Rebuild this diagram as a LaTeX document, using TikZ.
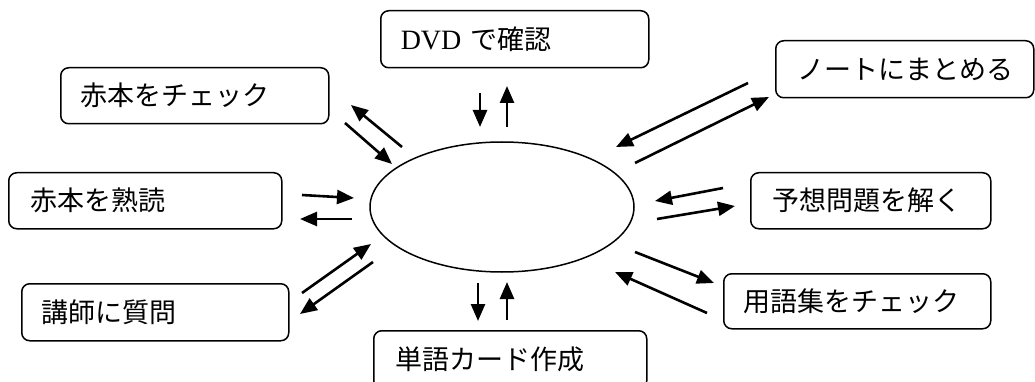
\documentclass[tikz,border=0pt]{standalone}
\usepackage{fontspec}
\setmainfont{Liberation Serif}
\newfontfamily\jp{Noto Sans CJK JP}
\usetikzlibrary{arrows.meta}
\begin{document}
\begin{tikzpicture}[x=1pt,y=-1pt,
  box/.style={draw, line width=1.5pt, rounded corners=8pt, anchor=north west, inner xsep=20pt, align=left, font=\fontsize{27}{31}\selectfont\jp},
  arr/.style={line width=2.6pt, -{Triangle[length=17pt,width=14pt]}}]
\useasboundingbox (0,0) rectangle (1035,382);
\clip (0,0) rectangle (1035,382);
\node[box, minimum width=268pt, minimum height=57pt, text width=228pt, inner xsep=18pt] (dvd) at (380,10) {{\rmfamily\fontsize{28}{31}\selectfont DVD} で確認};
\node[box, minimum width=268pt, minimum height=56pt, text width=228pt] (akac) at (60,67) {赤本をチェック};
\node[box, minimum width=269pt, minimum height=56pt, text width=229pt, inner xsep=22pt] (akaj) at (8,172) {赤本を熟読};
\node[box, minimum width=267pt, minimum height=57pt, text width=227pt] (kosi) at (21,283) {講師に質問};
\node[box, minimum width=269pt, minimum height=58pt, text width=229pt, inner xsep=22pt] (tang) at (373,330) {単語カード作成};
\node[box, minimum width=258pt, minimum height=57pt, text width=214pt, inner xsep=22pt] (note) at (775,40) {ノートにまとめる};
\node[box, minimum width=240pt, minimum height=56pt, text width=196pt, inner xsep=22pt] (yoso) at (750,172) {予想問題を解く};
\node[box, minimum width=267pt, minimum height=55pt, text width=227pt] (yogo) at (723,273) {用語集をチェック};
\draw[line width=1.5pt] (502,207) ellipse [x radius=132, y radius=65];
\node[draw=none, minimum width=264pt, minimum height=130pt, inner sep=0pt] (c) at (502,207) {};
% endpoints
\coordinate (d1) at (480,93); \coordinate (d2) at (480,127);
\coordinate (d3) at (507,127); \coordinate (d4) at (507,86);
\coordinate (a1) at (402,147); \coordinate (a2) at (351,105);
\coordinate (a3) at (345,123); \coordinate (a4) at (392,164);
\coordinate (j1) at (302,195); \coordinate (j2) at (354,198);
\coordinate (j3) at (352,219); \coordinate (j4) at (300,219);
\coordinate (k1) at (302,293); \coordinate (k2) at (371,244);
\coordinate (k3) at (373,262); \coordinate (k4) at (300,314);
\coordinate (t1) at (478,283); \coordinate (t2) at (478,321);
\coordinate (t3) at (507,320); \coordinate (t4) at (507,282);
\coordinate (n1) at (748,83); \coordinate (n2) at (616,147);
\coordinate (n3) at (635,163); \coordinate (n4) at (769,97);
\coordinate (y1) at (723,188); \coordinate (y2) at (655,201);
\coordinate (y3) at (657,219); \coordinate (y4) at (735,206);
\coordinate (g1) at (635,252); \coordinate (g2) at (714,283);
\coordinate (g3) at (707,313); \coordinate (g4) at (615,272);
\draw[arr] (d1) -- (d2); \draw[arr] (d3) -- (d4);
\draw[arr] (a1) -- (a2); \draw[arr] (a3) -- (a4);
\draw[arr] (j1) -- (j2); \draw[arr] (j3) -- (j4);
\draw[arr] (k1) -- (k2); \draw[arr] (k3) -- (k4);
\draw[arr] (t1) -- (t2); \draw[arr] (t3) -- (t4);
\draw[arr] (n1) -- (n2); \draw[arr] (n3) -- (n4);
\draw[arr] (y1) -- (y2); \draw[arr] (y3) -- (y4);
\draw[arr] (g1) -- (g2); \draw[arr] (g3) -- (g4);
\end{tikzpicture}
\end{document}
